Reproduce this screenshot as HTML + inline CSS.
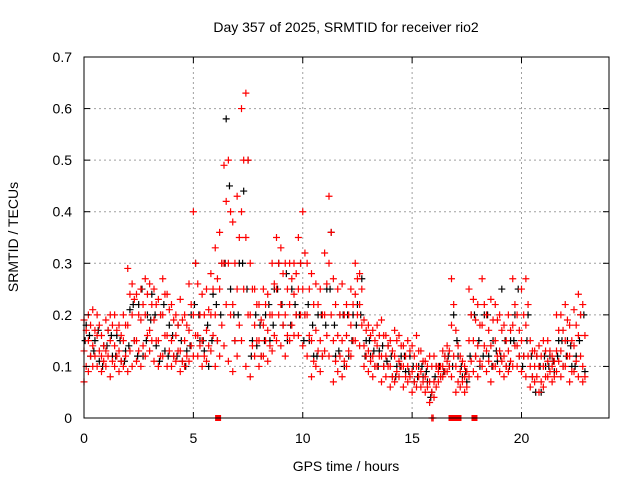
<!DOCTYPE html>
<html><head><meta charset="utf-8"><style>
body{margin:0;background:#fff}
svg{display:block;font-family:"Liberation Sans","DejaVu Sans",sans-serif}
</style></head><body>
<svg id="chart" width="640" height="480">
<rect width="640" height="480" fill="#fff"/>
<g id="grid"></g>
<g id="series"></g>
<rect x="84" y="57" width="525" height="361" fill="none" stroke="#000" stroke-width="1"/>
<g id="ticks"></g>
<text x="346" y="32" text-anchor="middle" font-size="14">Day 357 of 2025, SRMTID for receiver rio2</text>
<text x="346" y="471" text-anchor="middle" font-size="14">GPS time / hours</text>
<text x="0" y="0" transform="translate(18,237) rotate(-90)" text-anchor="middle" font-size="14">SRMTID / TECUs</text>
</svg>
<script>
const xTicks=[0,5,10,15,20];
const yTicks=[0,0.1,0.2,0.3,0.4,0.5,0.6,0.7];
const yTickLabels=["0","0.1","0.2","0.3","0.4","0.5","0.6","0.7"];
const step=0.2;
const redHi=[.19,.2,.21,.2,.16,.19,.2,.2,.18,.2,
.29,.26,.24,.25,.27,.26,.25,.23,.27,.24,
.22,.2,.23,.2,.26,.4,.26,.24,.25,.28,
.33,.36,.49,.5,.38,.43,.6,.63,.3,.25,
.22,.25,.24,.3,.35,.33,.3,.3,.3,.35,
.4,.3,.28,.26,.25,.32,.43,.27,.25,.26,
.22,.25,.3,.28,.19,.18,.17,.18,.19,.16,
.15,.17,.16,.14,.15,.14,.16,.13,.11,.12,
.12,.1,.13,.14,.27,.17,.12,.1,.25,.23,
.22,.27,.2,.23,.22,.2,.18,.2,.27,.2,
.25,.27,.15,.13,.14,.15,.15,.12,.2,.2,
.22,.18,.21,.24,.22];
const redLo=[.07,.09,.1,.1,.09,.1,.08,.1,.09,.1,
.09,.1,.11,.1,.12,.13,.11,.1,.12,.1,
.1,.11,.09,.1,.11,.12,.12,.1,.11,.13,
.1,.12,.14,.11,.09,.12,.15,.1,.08,.12,
.1,.12,.11,.13,.15,.14,.12,.15,.16,.16,
.14,.12,.08,.1,.09,.13,.12,.07,.09,.08,
.1,.12,.15,.14,.1,.09,.08,.1,.07,.08,
.06,.07,.08,.06,.07,.05,.06,.06,.05,.03,
.04,.07,.08,.09,.08,.05,.06,.05,.08,.09,
.08,.1,.09,.07,.1,.09,.08,.09,.1,.1,
.09,.08,.06,.07,.05,.06,.08,.07,.09,.08,
.1,.07,.09,.08,.07];
const redMid=[.13,.15,.14,.16,.12,.13,.15,.14,.13,.15,
.18,.2,.15,.19,.2,.17,.19,.15,.2,.16,
.15,.16,.13,.15,.17,.2,.16,.15,.17,.2,
.2,.25,.3,.3,.22,.25,.4,.35,.2,.18,
.15,.18,.17,.2,.25,.22,.2,.22,.24,.25,
.25,.2,.15,.17,.15,.2,.3,.15,.16,.15,
.16,.18,.24,.22,.14,.13,.12,.14,.12,.12,
.1,.12,.11,.1,.1,.09,.1,.09,.08,.07,
.07,.09,.1,.11,.18,.1,.09,.08,.15,.15,
.14,.18,.13,.14,.15,.13,.12,.13,.18,.14,
.15,.18,.1,.1,.1,.1,.11,.1,.13,.13,
.15,.12,.14,.16,.1];
const redQ=[.17,.18,.17,.18,.14,.17,.18,.17,.16,.18,
.24,.23,.2,.22,.24,.22,.22,.2,.24,.21,
.19,.18,.19,.18,.22,.3,.2,.2,.21,.25,
.27,.3,.42,.4,.3,.35,.5,.5,.25,.22,
.19,.22,.2,.26,.3,.28,.25,.27,.28,.3,
.32,.25,.22,.22,.2,.26,.36,.22,.2,.2,
.2,.22,.27,.25,.17,.16,.15,.16,.16,.14,
.13,.15,.14,.12,.13,.12,.13,.11,.1,.1,
.1,.1,.12,.13,.22,.14,.11,.09,.2,.19,
.18,.22,.17,.19,.19,.17,.15,.17,.22,.17,
.2,.22,.13,.12,.12,.13,.13,.11,.17,.17,
.19,.15,.18,.2,.16];
const redR=[.1,.12,.12,.13,.11,.12,.11,.12,.11,.12,
.13,.15,.13,.14,.16,.15,.15,.12,.16,.13,
.12,.13,.11,.12,.14,.16,.14,.12,.14,.16,
.15,.18,.22,.2,.15,.18,.25,.2,.14,.15,
.12,.15,.14,.16,.2,.18,.16,.18,.2,.2,
.2,.16,.11,.13,.12,.16,.2,.11,.12,.11,
.13,.15,.2,.18,.12,.11,.1,.12,.1,.1,
.08,.09,.1,.08,.08,.07,.08,.07,.06,.05,
.06,.08,.09,.1,.12,.07,.07,.06,.11,.12,
.11,.14,.11,.1,.12,.11,.1,.11,.14,.12,
.12,.12,.08,.08,.07,.08,.09,.08,.11,.1,
.12,.09,.11,.12,.08];
const blackA=[.18,.12,.15,.11,.14,.17,.12,.16,.11,.13,
.21,.15,.22,.12,.2,.24,.14,.2,.13,.18,
.12,.18,.11,.13,.2,.3,.15,.13,.1,.24,
.15,.3,.58,.25,.15,.3,.44,.5,.15,.14,
.12,.2,.15,.25,.3,.18,.15,.25,.2,.3,
.2,.15,.12,.2,.12,.25,.36,.12,.2,.1,
.12,.2,.22,.27,.15,.12,.1,.13,.1,.14,
.08,.1,.12,.09,.12,.07,.1,.08,.07,.05,
.1,.08,.12,.1,.2,.12,.08,.07,.2,.12,
.1,.2,.12,.15,.11,.25,.1,.15,.2,.12,
.12,.2,.08,.12,.05,.1,.12,.09,.15,.1,
.15,.1,.12,.2,.09];
const blackB=[.15,.16,.13,.17,.1,.14,.16,.12,.15,.11,
.14,.22,.12,.25,.15,.19,.2,.11,.22,.12,
.16,.12,.15,.1,.14,.22,.2,.15,.18,.15,
.22,.2,.3,.45,.2,.2,.3,.25,.12,.2,
.18,.15,.22,.18,.25,.22,.28,.18,.22,.2,
.15,.22,.18,.12,.2,.18,.25,.18,.13,.2,
.2,.15,.18,.2,.12,.15,.13,.1,.14,.11,
.12,.08,.1,.12,.09,.1,.08,.1,.09,.04,
.08,.1,.09,.12,.1,.15,.1,.09,.12,.2,
.15,.12,.2,.1,.13,.12,.15,.1,.15,.25,
.1,.15,.12,.05,.1,.12,.1,.11,.12,.15,
.12,.14,.1,.15,.2];
const zeroRedHours=[6.13,16.8,16.98,17.12,17.85];
const zeroPlusHours=[15.9,15.96];
const NS="http://www.w3.org/2000/svg";
const X=h=>84+h*(525/24);
const Y=v=>418-v*(361/0.7);
function mk(tag,attrs,parent){const e=document.createElementNS(NS,tag);for(const k in attrs)e.setAttribute(k,attrs[k]);parent.appendChild(e);return e;}
const grid=document.getElementById('grid'),ticks=document.getElementById('ticks'),ser=document.getElementById('series');
xTicks.forEach(t=>{const x=X(t);
 if(t>0){const g=mk('line',{x1:x,x2:x,y1:57,y2:418,stroke:'#a0a0a0','stroke-dasharray':'2,3'},grid);
 
 }
 mk('line',{x1:x,x2:x,y1:418,y2:412,stroke:'#000'},ticks);
 mk('line',{x1:x,x2:x,y1:57,y2:63,stroke:'#000'},ticks);
 const l=mk('text',{x:x,y:443,'text-anchor':'middle','font-size':14},ticks);l.textContent=t;
 
 
});
yTicks.forEach((t,i)=>{const y=Y(t);
 if(t>0&&t<0.7){const g=mk('line',{x1:84,x2:609,y1:y,y2:y,stroke:'#a0a0a0','stroke-dasharray':'2,3'},grid);
 
 }
 mk('line',{x1:84,x2:90,y1:y,y2:y,stroke:'#000'},ticks);
 mk('line',{x1:609,x2:603,y1:y,y2:y,stroke:'#000'},ticks);
 const l=mk('text',{x:72,y:y+5,'text-anchor':'end','font-size':14},ticks);l.textContent=yTickLabels[i];
 
 
});
function plus(h,v,c,name){const x=X(h),y=Y(v);
 const p=mk('path',{d:`M${x-3.5},${y}H${x+3.5}M${x},${y-3.5}V${y+3.5}`,stroke:c,'stroke-width':1.2,fill:'none'},ser);
 
 }
blackA.forEach((v,i)=>plus(i*step+0.1,v,'#000','black-point'));
blackB.forEach((v,i)=>plus(i*step+0.05,v,'#000','black-point'));
[redLo,redMid,redHi].forEach(arr=>arr.forEach((v,i)=>plus(i*step,v,'#f00','red-point')));
[redQ,redR].forEach(arr=>arr.forEach((v,i)=>plus(i*step+0.1,v,'#f00','red-point')));
zeroPlusHours.forEach(h=>plus(h,0,'#f00','zero-point'));
zeroRedHours.forEach(h=>{const r=mk('rect',{x:X(h)-3,y:415,width:6,height:6,fill:'#f00'},ser);
 
 });
</script>
</body></html>
